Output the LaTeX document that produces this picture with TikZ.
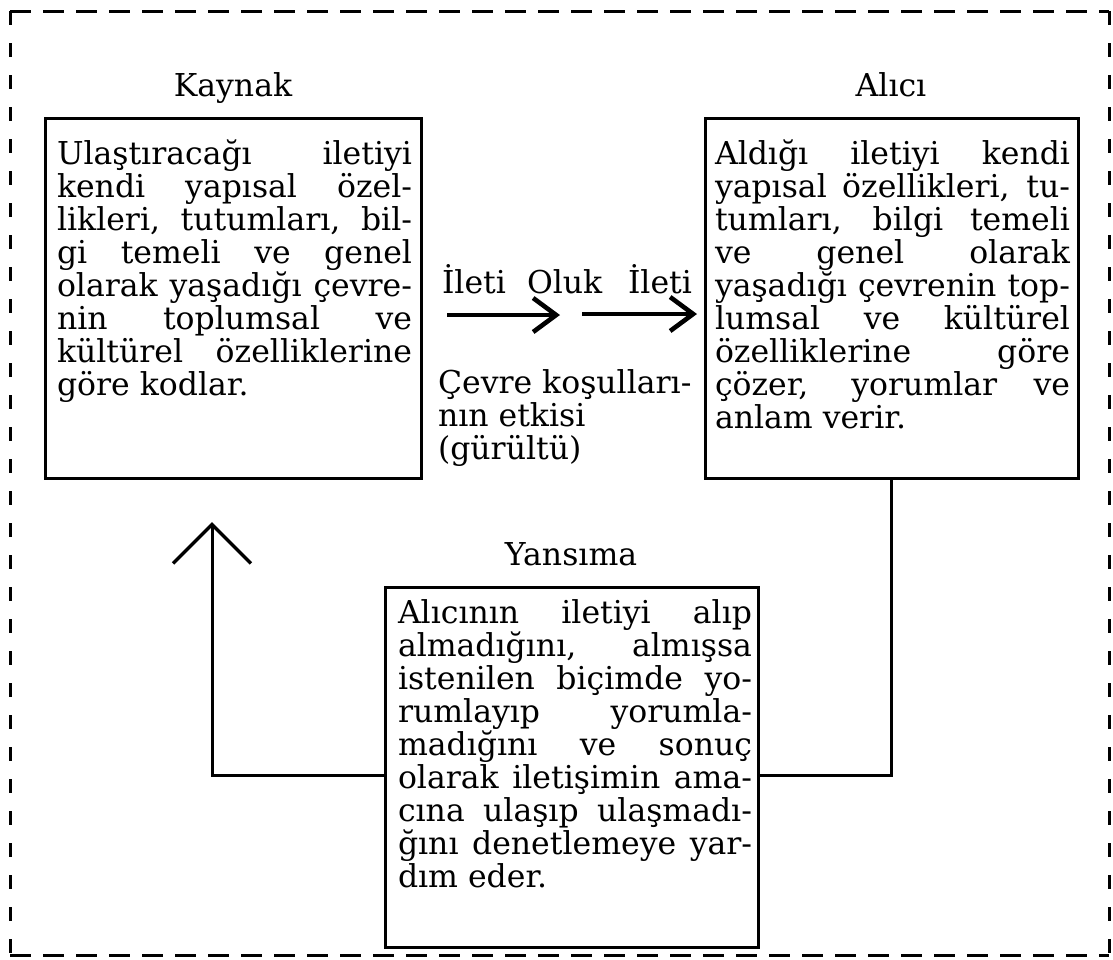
\documentclass[tikz,border=0pt]{standalone}
\usepackage{fontspec}
\setmainfont{DejaVu Serif}
\usetikzlibrary{arrows.meta}
\setlength\parskip{0pt}
\setlength\parindent{0pt}
\newcommand\J[1]{\noindent\makebox[\hsize][s]{#1}\par}
\newcommand\E[1]{\noindent#1\par}
\begin{document}
\begin{tikzpicture}[x=1pt,y=-1pt,
  every node/.style={inner sep=0pt, outer sep=0pt},
  box/.style={draw, line width=3pt, anchor=north west},
  txt/.style={anchor=base west, font=\fontsize{31.5}{33}\selectfont},
  lbl/.style={anchor=base, font=\fontsize{31.5}{33}\selectfont},
  conn/.style={line width=3pt},
  flow/.style={line width=3.6pt, -{Straight Barb[length=23pt,width=34pt,line width=4.6pt]}},
  fb/.style={line width=3pt, -{Straight Barb[length=39pt,width=78pt,line width=3.4pt]}},
  frame/.style={line width=3pt}
]
\useasboundingbox (0,0) rectangle (1113,959);

% frame
\coordinate (tl) at (10,11);
\coordinate (tr) at (1109,11);
\coordinate (bl) at (10,955);
\coordinate (br) at (1109,955);
\draw[frame, dash pattern=on 21pt off 12pt] (tl) -- (tr);
\draw[frame, dash pattern=on 21pt off 12pt] (bl) -- (br);
\draw[frame, dash pattern=on 14pt off 18pt] (tl) -- (bl);
\draw[frame, dash pattern=on 14pt off 18pt] (tr) -- (br);

% boxes
\node[box, minimum width=376pt, minimum height=360pt] (kbox) at (45,118) {};
\node[box, minimum width=373pt, minimum height=360pt] (abox) at (705,118) {};
\node[box, minimum width=373pt, minimum height=360pt] (ybox) at (385,587) {};

% labels
\node[lbl] (klbl) at (233,96) {Kaynak};
\node[lbl] (albl) at (891,96) {Alıcı};
\node[lbl] (ylbl) at (571,565) {Yansıma};

% box texts
\node[txt] (ktext) at (57,164) {\parbox[t]{355pt}{%
\J{Ulaştıracağı iletiyi}
\J{kendi yapısal özel-}
\J{likleri, tutumları, bil-}
\J{gi temeli ve genel}
\J{olarak yaşadığı çevre-}
\J{nin toplumsal ve}
\J{kültürel özelliklerine}
\E{göre kodlar.}}};

\node[txt] (atext) at (715,164) {\parbox[t]{355pt}{%
\J{Aldığı iletiyi kendi}
\J{yapısal özellikleri, tu-}
\J{tumları, bilgi temeli}
\J{ve genel olarak}
\J{yaşadığı çevrenin top-}
\J{lumsal ve kültürel}
\J{özelliklerine göre}
\J{çözer, yorumlar ve}
\E{anlam verir.}}};

\node[txt] (ytext) at (398,623) {\parbox[t]{354pt}{%
\J{Alıcının iletiyi alıp}
\J{almadığını, almışsa}
\J{istenilen biçimde yo-}
\J{rumlayıp yorumla-}
\J{madığını ve sonuç}
\J{olarak iletişimin ama-}
\J{cına ulaşıp ulaşmadı-}
\J{ğını denetlemeye yar-}
\E{dım eder.}}};

% middle
\node[txt] (il1) at (442,293) {İleti};
\node[txt] (oluk) at (527,293) {Oluk};
\node[txt] (il2) at (628,293) {İleti};
\node[txt] (cevre) at (438,393) {\parbox[t]{260pt}{\raggedright
Çevre koşulları-\\nın etkisi\\(gürültü)}};

\coordinate (f1s) at (447,315);
\coordinate (f1e) at (560,315);
\coordinate (f2s) at (582,314);
\coordinate (f2e) at (697,314);
\draw[flow] (f1s) -- (f1e);
\draw[flow] (f2s) -- (f2e);

% feedback
\coordinate (fbtip) at (212,522);
\draw[fb] ([yshift=-8pt]ybox.west) -| (fbtip);
\draw[conn] (abox.south) |- ([yshift=-8pt]ybox.east);
\end{tikzpicture}
\end{document}
